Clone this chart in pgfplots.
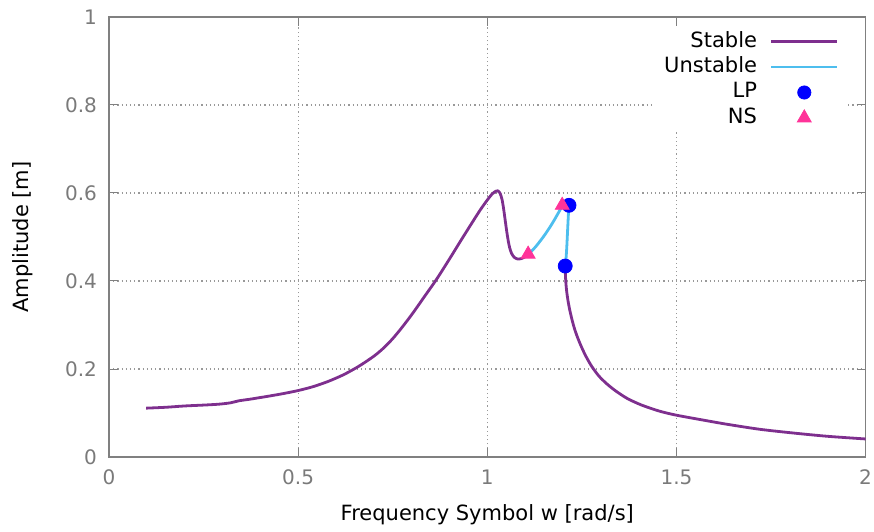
\documentclass[border=0pt]{standalone}
\usepackage{pgfplots}
\pgfplotsset{compat=1.18}
\usepackage{fontspec}
\setmainfont{DejaVu Sans}
\definecolor{stablec}{HTML}{7E2F8E}
\definecolor{unstablec}{HTML}{4DBEEE}
\definecolor{nsc}{HTML}{FF3399}
\definecolor{lpc}{HTML}{0000FF}
\definecolor{tickc}{HTML}{7A7A7A}
\definecolor{framec}{HTML}{808080}
\begin{document}
\begin{tikzpicture}
\begin{axis}[
  scale only axis,
  width=378.3pt, height=220pt,
  xmin=0, xmax=2, ymin=0, ymax=1,
  xtick={0,0.5,...,2}, ytick={0,0.2,...,1},
  xticklabels={0,0.5,1,1.5,2},
  yticklabels={0,0.2,0.4,0.6,0.8,1},
  /pgf/number format/assume math mode=true,
  tick align=inside, major tick length=4.5pt,
  tick style={framec, line width=0.5pt},
  axis line style={framec, line width=0.6pt},
  grid=major,
  major grid style={black!40, line width=0.6pt, dash pattern=on 0.6pt off 1.5pt},
  tick label style={font=\fontsize{10}{12}\selectfont, text=tickc},
  xticklabel style={yshift=-3pt},
  yticklabel style={xshift=-2.5pt},
  every axis x label/.style={at={([yshift=-31.5pt]axis description cs:0.5,0)}, anchor=base},
  every axis y label/.style={at={([xshift=-40.25pt]axis description cs:0,0.5)}, anchor=base, rotate=90},
  label style={font=\fontsize{10.5}{12}\selectfont},
  xlabel={Frequency Symbol w [rad/s]},
  ylabel={Amplitude [m]},
  legend plot pos=right,
  legend cell align=right,
  legend style={at={(axis description cs:1,1)}, anchor=north east, xshift=-8.8pt, yshift=-5pt,
    draw=none, fill=white, inner xsep=4.5pt, inner ysep=0.8pt, row sep=0pt, column sep=5pt,
    font=\fontsize{10.5}{12}\selectfont,
    nodes={inner sep=1.5pt, text height=7.5pt, text depth=2.2pt}},
]
\addplot[stablec, line width=1.4pt, line join=round, smooth, tension=0.45,
  legend image code/.code={\draw[stablec, line width=1.3pt] (0pt,0pt) -- (33pt,0pt);}]
coordinates {
(0.098,0.111)(0.15,0.113)(0.2,0.116)(0.25,0.118)(0.29,0.120)(0.32,0.123)(0.345,0.128)(0.37,0.131)
(0.42,0.138)(0.46,0.144)(0.5,0.151)(0.54,0.160)(0.58,0.172)(0.62,0.187)(0.66,0.206)(0.7,0.229)
(0.725,0.247)(0.75,0.269)(0.775,0.295)(0.804,0.328)(0.835,0.366)(0.866,0.404)(0.9,0.450)
(0.928,0.489)(0.955,0.526)(0.981,0.561)(1.0,0.584)(1.012,0.597)(1.022,0.604)(1.028,0.605)
(1.034,0.599)(1.039,0.585)(1.043,0.565)(1.047,0.540)(1.051,0.515)(1.055,0.493)(1.059,0.476)
(1.064,0.463)(1.071,0.454)(1.080,0.450)(1.090,0.451)(1.100,0.455)(1.108,0.461)
};
\addlegendentry{Stable}
\addplot[unstablec, line width=1.4pt, line join=round, smooth, tension=0.45,
  legend image code/.code={\draw[unstablec, line width=1.3pt] (0pt,0pt) -- (33pt,0pt);}]
coordinates {
(1.108,0.461)(1.117,0.468)(1.128,0.478)(1.139,0.490)(1.152,0.505)(1.166,0.523)(1.176,0.537)
(1.186,0.552)(1.194,0.564)(1.200,0.571)(1.207,0.575)(1.213,0.574)(1.215,0.566)(1.214,0.545)
(1.212,0.510)(1.210,0.475)(1.208,0.450)(1.206,0.434)
};
\addlegendentry{Unstable}
\addplot[stablec, line width=1.4pt, line join=round, smooth, tension=0.45, forget plot]
coordinates {
(1.2060,0.434)(1.2065,0.414)(1.2079,0.394)(1.2102,0.374)(1.2136,0.354)(1.2180,0.334)
(1.2234,0.314)(1.230,0.293)(1.238,0.273)(1.248,0.252)(1.260,0.230)(1.276,0.206)
(1.295,0.184)(1.315,0.167)(1.338,0.151)(1.370,0.133)(1.408,0.118)(1.456,0.104)
(1.5,0.095)(1.57,0.084)(1.633,0.0745)(1.72,0.063)(1.809,0.0545)(1.9,0.047)(2.0,0.041)
};
\addplot[only marks, mark=*, mark size=3.5pt, color=lpc, fill=lpc,
  legend image code/.code={\fill[lpc] (16.5pt,0pt) circle[radius=3.3pt];}]
coordinates {(1.216,0.572)(1.206,0.434)};
\addlegendentry{LP}
\addplot[only marks, mark=triangle*, mark size=4pt, color=nsc, fill=nsc,
  legend image code/.code={\fill[nsc] (16.5pt,4pt) -- (19.96pt,-2pt) -- (13.04pt,-2pt) -- cycle;}]
coordinates {(1.108,0.461)(1.198,0.572)};
\addlegendentry{NS}
\end{axis}
\pgfresetboundingbox
\path ([shift={(-54.5pt,-37pt)}]current axis.south west) rectangle ([shift={(4.2pt,8.5pt)}]current axis.north east);
\end{tikzpicture}
\end{document}
